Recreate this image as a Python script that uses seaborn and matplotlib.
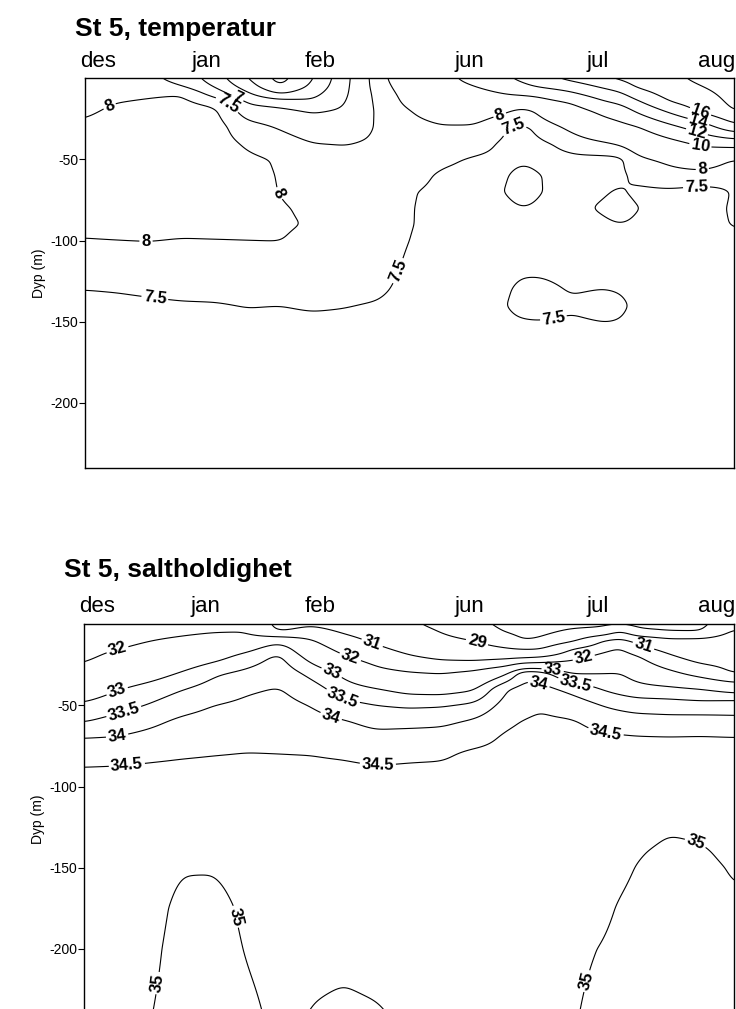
import numpy as np
import matplotlib
matplotlib.use("Agg")
import matplotlib.pyplot as plt
import seaborn as sns

# ---------------- data ----------------
month_labels = ["des", "jan", "feb", "jun", "jul", "aug"]
month_pos = [2.0, 18.7, 36.3, 59.3, 79.0, 97.3]          # position along the section
y_ticks = [-50, -100, -150, -200]

# section positions (relative units along the time axis) of each profile
x_cols = [0, 5, 10, 15, 20, 25, 30, 35, 40, 45, 50, 55, 60, 65, 67.5, 70,
          75, 80, 82.5, 85, 90, 95, 100]
# depths (m) of the profile values
depths = [0, -5, -10, -15, -20, -30, -40, -50, -60, -70, -80, -90, -100,
          -115, -130, -140, -150, -175, -200, -240]

# temperature (deg C), one profile per x position
temperature = [
    [7.85, 7.85, 7.9, 7.92, 7.95, 8.05, 8.15, 8.2, 8.2, 8.18, 8.12, 8.06, 7.99, 7.8, 7.5, 7.42, 7.38, 7.33, 7.3, 7.28],
    [7.75, 7.8, 7.9, 8.0, 8.05, 8.15, 8.2, 8.25, 8.25, 8.2, 8.15, 8.08, 8.0, 7.8, 7.52, 7.43, 7.38, 7.33, 7.3, 7.28],
    [7.6, 7.75, 7.95, 8.05, 8.1, 8.2, 8.25, 8.3, 8.3, 8.25, 8.2, 8.12, 8.01, 7.8, 7.55, 7.45, 7.4, 7.34, 7.31, 7.28],
    [7.3, 7.5, 8.0, 8.1, 8.15, 8.2, 8.25, 8.3, 8.3, 8.28, 8.22, 8.12, 7.98, 7.8, 7.58, 7.47, 7.4, 7.35, 7.32, 7.29],
    [6.75, 6.95, 7.3, 7.85, 8.1, 8.2, 8.2, 8.25, 8.28, 8.28, 8.22, 8.12, 7.99, 7.78, 7.58, 7.48, 7.41, 7.35, 7.32, 7.29],
    [6.0, 6.25, 6.6, 6.95, 7.2, 7.68, 7.93, 8.08, 8.12, 8.14, 8.14, 8.1, 8.0, 7.8, 7.6, 7.51, 7.45, 7.38, 7.33, 7.3],
    [5.3, 5.45, 6.0, 6.8, 7.1, 7.45, 7.72, 7.96, 7.98, 7.99, 8.03, 8.05, 8.01, 7.8, 7.6, 7.5, 7.44, 7.37, 7.33, 7.3],
    [5.95, 6.1, 6.35, 6.6, 6.95, 7.2, 7.5, 7.7, 7.8, 7.86, 7.94, 7.97, 7.9, 7.75, 7.6, 7.53, 7.45, 7.38, 7.33, 7.3],
    [6.85, 6.88, 6.92, 6.98, 7.05, 7.25, 7.48, 7.6, 7.7, 7.75, 7.8, 7.8, 7.78, 7.7, 7.58, 7.51, 7.45, 7.38, 7.33, 7.3],
    [7.71, 7.68, 7.62, 7.58, 7.55, 7.53, 7.55, 7.6, 7.65, 7.68, 7.7, 7.7, 7.68, 7.63, 7.55, 7.48, 7.43, 7.37, 7.33, 7.3],
    [8.6, 8.4, 8.25, 8.15, 8.0, 7.85, 7.75, 7.68, 7.6, 7.52, 7.51, 7.51, 7.49, 7.45, 7.42, 7.4, 7.38, 7.35, 7.32, 7.3],
    [9.4, 9.1, 8.8, 8.5, 8.25, 7.97, 7.75, 7.55, 7.46, 7.44, 7.43, 7.42, 7.42, 7.41, 7.4, 7.39, 7.37, 7.34, 7.32, 7.3],
    [10.7, 10.0, 9.3, 8.8, 8.4, 7.95, 7.62, 7.47, 7.44, 7.43, 7.43, 7.42, 7.42, 7.42, 7.41, 7.4, 7.38, 7.35, 7.32, 7.3],
    [11.8, 11.0, 10.0, 9.0, 8.1, 7.48, 7.44, 7.44, 7.48, 7.5, 7.45, 7.43, 7.42, 7.43, 7.47, 7.49, 7.45, 7.37, 7.33, 7.3],
    [12.5, 11.6, 10.2, 8.8, 7.65, 7.46, 7.44, 7.47, 7.58, 7.62, 7.5, 7.43, 7.42, 7.44, 7.56, 7.6, 7.48, 7.38, 7.33, 7.3],
    [13.3, 12.3, 10.4, 9.3, 8.2, 7.55, 7.45, 7.44, 7.5, 7.5, 7.46, 7.43, 7.42, 7.44, 7.56, 7.6, 7.49, 7.38, 7.33, 7.3],
    [14.6, 13.0, 11.6, 10.1, 9.3, 8.2, 7.58, 7.45, 7.44, 7.44, 7.44, 7.43, 7.42, 7.42, 7.48, 7.53, 7.47, 7.38, 7.33, 7.3],
    [15.9, 14.4, 13.0, 11.8, 10.5, 9.2, 7.9, 7.38, 7.42, 7.47, 7.53, 7.46, 7.42, 7.42, 7.5, 7.6, 7.5, 7.38, 7.33, 7.3],
    [16.3, 15.0, 13.6, 12.3, 11.0, 9.5, 8.1, 7.38, 7.43, 7.54, 7.62, 7.5, 7.42, 7.42, 7.48, 7.56, 7.49, 7.38, 7.33, 7.3],
    [16.9, 16.3, 15.0, 13.6, 12.3, 9.9, 8.4, 7.85, 7.58, 7.44, 7.5, 7.46, 7.43, 7.42, 7.42, 7.43, 7.42, 7.37, 7.33, 7.3],
    [17.6, 17.2, 16.7, 15.9, 14.4, 11.5, 9.4, 8.15, 7.75, 7.44, 7.43, 7.42, 7.42, 7.42, 7.41, 7.4, 7.38, 7.35, 7.32, 7.3],
    [18.4, 18.0, 17.5, 17.0, 16.4, 13.0, 10.4, 8.6, 7.7, 7.4, 7.44, 7.45, 7.44, 7.42, 7.41, 7.4, 7.38, 7.35, 7.32, 7.3],
    [19.0, 18.8, 18.6, 18.4, 18.1, 15.5, 10.8, 7.95, 7.55, 7.52, 7.52, 7.51, 7.47, 7.42, 7.41, 7.4, 7.38, 7.35, 7.32, 7.3],
]

# salinity, one profile per x position
salinity = [
    [31.6, 31.7, 31.8, 31.85, 31.9, 32.15, 32.65, 33.08, 33.48, 34.0, 34.28, 34.55, 34.7, 34.8, 34.85, 34.87, 34.88, 34.9, 34.92, 34.94],
    [31.65, 31.75, 31.85, 31.97, 32.12, 32.5, 32.96, 33.3, 33.68, 34.03, 34.3, 34.57, 34.7, 34.8, 34.86, 34.88, 34.9, 34.92, 34.93, 34.95],
    [31.72, 31.82, 31.98, 32.12, 32.3, 32.72, 33.2, 33.53, 33.88, 34.15, 34.38, 34.6, 34.72, 34.82, 34.88, 34.9, 34.92, 34.94, 34.96, 34.99],
    [31.78, 31.9, 32.1, 32.3, 32.5, 33.03, 33.47, 33.8, 34.1, 34.27, 34.44, 34.63, 34.75, 34.85, 34.92, 34.96, 34.99, 35.04, 35.06, 35.07],
    [31.85, 31.97, 32.25, 32.5, 32.78, 33.42, 33.7, 34.0, 34.2, 34.33, 34.48, 34.65, 34.76, 34.86, 34.93, 34.96, 34.99, 35.05, 35.07, 35.08],
    [31.85, 31.98, 32.35, 32.8, 33.2, 33.6, 33.93, 34.1, 34.25, 34.38, 34.51, 34.65, 34.76, 34.85, 34.9, 34.92, 34.94, 34.97, 34.99, 35.03],
    [30.7, 30.95, 32.8, 33.35, 33.6, 33.8, 34.03, 34.16, 34.28, 34.38, 34.5, 34.62, 34.72, 34.82, 34.88, 34.9, 34.91, 34.93, 34.95, 34.97],
    [30.85, 31.4, 32.05, 32.4, 32.75, 33.35, 33.72, 33.98, 34.18, 34.33, 34.49, 34.6, 34.7, 34.8, 34.86, 34.89, 34.91, 34.94, 34.97, 35.005],
    [30.6, 30.9, 31.35, 31.7, 32.05, 32.85, 33.25, 33.65, 34.04, 34.25, 34.44, 34.6, 34.7, 34.79, 34.85, 34.88, 34.9, 34.94, 34.975, 35.02],
    [30.2, 30.5, 30.8, 31.2, 31.6, 32.25, 33.03, 33.5, 33.85, 34.15, 34.35, 34.56, 34.68, 34.78, 34.84, 34.87, 34.89, 34.93, 34.96, 35.01],
    [29.2, 29.7, 30.2, 30.65, 31.1, 32.05, 32.8, 33.42, 33.85, 34.2, 34.4, 34.58, 34.68, 34.77, 34.83, 34.86, 34.88, 34.92, 34.95, 34.98],
    [28.6, 28.95, 29.5, 30.1, 30.75, 31.95, 32.75, 33.45, 33.9, 34.2, 34.42, 34.6, 34.68, 34.76, 34.82, 34.85, 34.87, 34.91, 34.94, 34.97],
    [27.4, 28.0, 28.97, 29.6, 30.6, 32.2, 32.93, 33.6, 34.07, 34.3, 34.6, 34.68, 34.72, 34.78, 34.82, 34.85, 34.87, 34.9, 34.93, 34.96],
    [26.6, 26.9, 28.0, 29.0, 30.7, 32.85, 34.0, 34.2, 34.42, 34.58, 34.65, 34.7, 34.73, 34.78, 34.82, 34.85, 34.87, 34.9, 34.93, 34.96],
    [26.3, 26.55, 26.9, 28.7, 30.8, 33.85, 34.15, 34.35, 34.52, 34.6, 34.65, 34.7, 34.73, 34.78, 34.82, 34.85, 34.87, 34.9, 34.93, 34.96],
    [26.4, 26.6, 27.2, 28.7, 30.95, 33.75, 34.2, 34.47, 34.56, 34.62, 34.66, 34.7, 34.74, 34.79, 34.83, 34.85, 34.87, 34.9, 34.93, 34.96],
    [26.6, 27.3, 28.5, 31.05, 31.7, 32.95, 33.85, 34.3, 34.54, 34.63, 34.68, 34.72, 34.77, 34.82, 34.86, 34.88, 34.9, 34.93, 34.96, 34.98],
    [26.7, 27.6, 31.2, 31.75, 32.25, 32.98, 33.45, 33.97, 34.35, 34.56, 34.67, 34.74, 34.8, 34.85, 34.89, 34.91, 34.93, 34.96, 35.01, 35.06],
    [26.8, 29.5, 31.55, 32.1, 32.35, 33.02, 33.3, 33.85, 34.3, 34.55, 34.68, 34.75, 34.8, 34.86, 34.91, 34.93, 34.95, 35.02, 35.06, 35.08],
    [26.6, 27.4, 30.7, 31.4, 32.1, 32.75, 33.2, 33.75, 34.25, 34.53, 34.68, 34.76, 34.82, 34.88, 34.94, 34.98, 35.01, 35.06, 35.08, 35.1],
    [26.6, 27.0, 29.5, 30.6, 31.15, 32.2, 33.15, 33.72, 34.2, 34.52, 34.68, 34.77, 34.84, 34.92, 35.0, 35.04, 35.07, 35.1, 35.11, 35.12],
    [26.6, 26.95, 29.6, 30.2, 30.5, 31.6, 33.02, 33.68, 34.22, 34.53, 34.67, 34.76, 34.83, 34.9, 34.98, 35.02, 35.05, 35.08, 35.1, 35.11],
    [28.2, 29.4, 30.1, 30.4, 30.6, 30.92, 32.75, 33.8, 34.12, 34.52, 34.66, 34.74, 34.8, 34.87, 34.92, 34.95, 34.98, 35.03, 35.06, 35.08],
]

temp_levels = [5.5, 6, 6.5, 7, 7.5, 8, 10, 12, 14, 16, 18]
salt_levels = [27, 29, 31, 32, 33, 33.5, 34, 34.5, 35]

# label anchor points (x, depth)
temp_label_pos = [(4.3, -22), (21.9, -16.5), (23.4, -13), (30.4, -70), (9.4, -100),
                  (10.8, -134), (48.5, -119), (64.0, -24), (65.8, -28), (94.8, -21),
                  (94.5, -27), (94.3, -33), (94.8, -42), (95.1, -55), (94.2, -65),
                  (72.1, -146)]
salt_label_pos = [(5.2, -16.5), (5.1, -41.3), (6.2, -55), (5.1, -69), (6.6, -87),
                  (44.3, -12), (40.9, -21), (38.1, -30), (39.7, -46), (38.0, -57),
                  (45.2, -87), (60.5, -10.5), (72.1, -28.4), (70.1, -34.6),
                  (75.7, -35), (77.0, -22.8), (86.1, -13), (80.3, -66),
                  (12.2, -221.5), (23.5, -180), (79.0, -221.5), (94.4, -131)]

# ---------------- gridding helpers ----------------
xf = np.linspace(0, 100, 401)
df = np.linspace(-240, 0, 481)


def gaussian_kernel(sigma):
    n = int(np.ceil(3 * sigma))
    k = np.exp(-0.5 * (np.arange(-n, n + 1) / sigma) ** 2)
    return k / k.sum()


def smooth(z, sx, sy):
    kx, ky = gaussian_kernel(sx), gaussian_kernel(sy)
    px, py = len(kx) // 2, len(ky) // 2
    zp = np.pad(z, ((0, 0), (px, px)), mode="edge")
    z = np.array([np.convolve(r, kx, mode="valid") for r in zp])
    zp = np.pad(z, ((py, py), (0, 0)), mode="edge")
    z = np.array([np.convolve(c, ky, mode="valid") for c in zp.T]).T
    return z


def to_grid(profiles):
    d = np.array(depths, float)[::-1]
    cols = np.array([np.interp(df, d, np.array(p, float)[::-1]) for p in profiles]).T
    rows = np.array([np.interp(xf, x_cols, r) for r in cols])
    return smooth(rows, 4.0, 3.0)


# ---------------- figure ----------------
sns.set_theme(style="white")
plt.rcParams["font.family"] = ["Liberation Sans", "DejaVu Sans"]
plt.rcParams["text.color"] = "black"
plt.rcParams["axes.labelcolor"] = "black"
plt.rcParams["xtick.color"] = "black"
plt.rcParams["ytick.color"] = "black"

W, H = 736, 1009
fig = plt.figure(figsize=(W / 100, H / 100), dpi=100)


def px_axes(l, t, r, b):
    return [l / W, 1 - b / H, (r - l) / W, (b - t) / H]


ax1 = fig.add_axes(px_axes(85, 78, 734, 468))
ax2 = fig.add_axes(px_axes(84, 624, 734, 1014))


def draw(ax, profiles, levels, label_pos, xpad):
    z = to_grid(profiles)
    cs = ax.contour(xf, df, z, levels=levels, colors="black", linewidths=0.8)
    txt = ax.clabel(cs, manual=label_pos, fmt="%g", fontsize=12,
                    inline=True, inline_spacing=2)
    for t in txt:
        t.set_fontweight("bold")
        t.set_color("black")
    ax.set_xlim(0, 100)
    ax.set_ylim(-240, 0)
    ax.xaxis.tick_top()
    ax.set_xticks(month_pos)
    ax.set_xticklabels(month_labels, fontsize=16, color="black")
    ax.tick_params(axis="x", length=0, pad=xpad)
    ax.set_yticks(y_ticks)
    ax.set_yticklabels([str(v) for v in y_ticks], fontsize=10, color="black")
    ax.tick_params(axis="y", length=4, width=0.8, color="black", direction="out",
                   left=True, pad=1)
    ax.set_ylabel("Dyp (m)", fontsize=10, labelpad=3, color="black")
    for s in ax.spines.values():
        s.set_color("black")
        s.set_linewidth(1.0)
    ax.grid(False)


draw(ax1, temperature, temp_levels, temp_label_pos, 4)
draw(ax2, salinity, salt_levels, salt_label_pos, 5)

fig.text(75 / W, 1 - 36 / H, "St 5, temperatur", fontsize=19, fontweight="bold",
         ha="left", va="baseline", color="black")
fig.text(64 / W, 1 - 577 / H, "St 5, saltholdighet", fontsize=19, fontweight="bold",
         ha="left", va="baseline", color="black")

fig.savefig("out.png", dpi=100)
